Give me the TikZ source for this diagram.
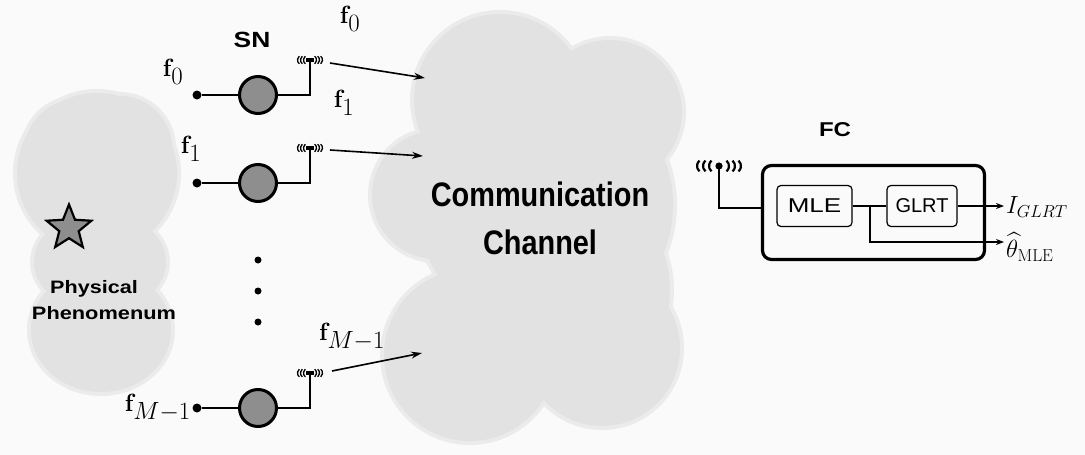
\documentclass[tikz,border=0pt]{standalone}
\usepackage[no-math]{fontspec}
\setsansfont{Liberation Sans}
\usepackage{amsmath}
\usepackage{graphicx}
\usetikzlibrary{arrows.meta,shapes.geometric}
\definecolor{bgcol}{HTML}{FAFAFA}
\definecolor{cloudcol}{HTML}{E2E2E2}
\definecolor{cloudedge}{HTML}{EBEBEB}
\definecolor{nodefill}{HTML}{8E8E8E}
\begin{document}
\begin{tikzpicture}[x=1pt,y=-1pt,
  wire/.style={line width=1.6pt},
  sig/.style={line width=1.6pt,-{Stealth[length=11pt,width=7pt]}},
  outarr/.style={line width=1.3pt,-{Stealth[length=8pt,width=6pt]}},
  dotnode/.style={circle,fill=black,inner sep=0pt,minimum size=9pt},
  ddot/.style={circle,fill=black,inner sep=0pt,minimum size=7pt},
  sensor/.style={circle,draw=black,line width=3pt,fill=nodefill,minimum size=37pt,inner sep=0pt},
  lbl/.style={font=\fontsize{33}{36}\selectfont,inner sep=1pt},
  blk/.style={draw=black,line width=1.2pt,rounded corners=4pt,minimum height=41pt,inner sep=0pt,font=\sffamily\fontsize{20}{22}\selectfont},
  sntenna/.pic={
    \fill (-4,-2) rectangle (4,2);
    \foreach \d in {1.5,4.5,7.5}{
      \draw[line width=1.3pt] ([shift={(-50:5)}]\d,0) arc (-50:50:5);
      \draw[line width=1.3pt] ([shift={(130:5)}]-\d,0) arc (130:230:5);
    }
  },
  fctenna/.pic={
    \fill (0,0) circle (3.6);
    \foreach \d in {3,9,15}{
      \draw[line width=2.2pt] ([shift={(-50:7)}]\d,0) arc (-50:50:7);
      \draw[line width=2.2pt] ([shift={(130:7)}]-\d,0) arc (130:230:7);
    }
  }]

% canvas
\fill[bgcol] (0,0) rectangle (1085,455);
\useasboundingbox (0,0) rectangle (1085,455);

% soft rim, then body, of the cloud around the observed phenomenon
\foreach \grow/\col in {4/cloudedge,0/cloudcol}{
  \begin{scope}[fill=\col]
    \fill (97,173) ellipse [x radius=80+\grow, y radius=80+\grow];
    \fill (75,150) circle (50+\grow);
    \fill (120,148) circle (52+\grow);
    \fill (101,330) ellipse [x radius=70+\grow, y radius=62+\grow];
    \fill (100,262) ellipse [x radius=66+\grow, y radius=50+\grow];
  \end{scope}
}

% soft rim, then body, of the cloud of the communication channel
\foreach \grow/\col in {4/cloudedge,0/cloudcol}{
  \begin{scope}[fill=\col]
    \fill (500,100) circle (86+\grow);
    \fill (610,112) circle (72+\grow);
    \fill (436,195) circle (64+\grow);
    \fill (545,205) circle (128+\grow);
    \fill (470,355) circle (86+\grow);
    \fill (602,348) circle (78+\grow);
    \fill (560,290) circle (110+\grow);
  \end{scope}
}

% physical phenomenon
\node[star,star points=5,star point ratio=2.3,minimum size=47pt,inner sep=0pt,
      draw=black,line width=2.2pt,fill=nodefill] (src) at (69,228) {};
\node[font=\sffamily\bfseries\fontsize{18}{22}\selectfont] (srclbl1) at (94,289)
  {\scalebox{1.2}[1]{Physical}};
\node[font=\sffamily\bfseries\fontsize{18}{22}\selectfont] (srclbl2) at (104,313)
  {\scalebox{1.21}[1]{Phenomenum}};

% sensor nodes
\node[font=\sffamily\bfseries\fontsize{22}{24}\selectfont] (snlbl) at (252,40) {\scalebox{1.2}[1]{SN}};

\node[dotnode] (in0) at (197,95) {};
\node[sensor] (sn0) at (258,95) {};
\coordinate (ant0) at (310,60);
\draw[wire] (in0) -- (sn0);
\draw[wire] (sn0.east) -| (ant0);
\pic at (ant0) {sntenna};
\node[lbl] (fin0) at (173,72) {$\mathbf{f}_0$};

\node[dotnode] (in1) at (197,183) {};
\node[sensor] (sn1) at (258,183) {};
\coordinate (ant1) at (310,148);
\draw[wire] (in1) -- (sn1);
\draw[wire] (sn1.east) -| (ant1);
\pic at (ant1) {sntenna};
\node[lbl] (fin1) at (191,149) {$\mathbf{f}_1$};

\node[ddot] (dA) at (258,260) {};
\node[ddot] (dB) at (258,291) {};
\node[ddot] (dC) at (258,322) {};

\node[dotnode] (inM) at (197,408) {};
\node[sensor] (snM) at (258,408) {};
\coordinate (antM) at (310,373);
\draw[wire] (inM) -- (snM);
\draw[wire] (snM.east) -| (antM);
\pic at (antM) {sntenna};
\node[lbl,anchor=east] (finM) at (192,408) {$\mathbf{f}_{M-1}$};

% transmissions into the channel
\coordinate (tx0) at (330,63);  \coordinate (rx0) at (425,78);
\coordinate (tx1) at (330,150); \coordinate (rx1) at (423,156);
\coordinate (txM) at (332,371); \coordinate (rxM) at (422,353);
\draw[sig] (tx0) -- (rx0);
\draw[sig] (tx1) -- (rx1);
\draw[sig] (txM) -- (rxM);
\node[lbl] (fout0) at (350,19) {$\mathbf{f}_0$};
\node[lbl] (fout1) at (344,103) {$\mathbf{f}_1$};
\node[lbl] (foutM) at (352,337) {$\mathbf{f}_{M-1}$};

% channel label
\node[font=\sffamily\bfseries\fontsize{34}{48}\selectfont,align=center] (chan) at (540,218)
  {\scalebox{0.85}[1]{Communication}\\\scalebox{0.85}[1]{Channel}};

% fusion center
\node[font=\sffamily\bfseries\fontsize{20}{22}\selectfont] (fclbl) at (835,130) {\scalebox{1.2}[1]{FC}};
\coordinate (fcant) at (719,166);
\pic at (fcant) {fctenna};
\node[draw=black,line width=3.2pt,rounded corners=9pt,minimum width=222pt,minimum height=94pt,inner sep=0pt]
  (fc) at (873.5,212.5) {};
\coordinate (fcin) at (fc.west |- 0,208);
\draw[wire,line width=1.4pt] (fcant) |- (fcin);

\node[blk,minimum width=75pt] (mle) at (814.5,206) {\scalebox{1.3}[1]{MLE}};
\node[blk,minimum width=70pt] (glrt) at (922,206) {GLRT};
\draw[line width=1.3pt] (mle) -- (glrt);
\coordinate (br) at (870,206);
\coordinate (thend) at (1004,242);
\coordinate (iend) at (1004,206);
\draw[outarr] (br) |- (thend);
\draw[outarr] (glrt) -- (iend);
\node[anchor=west,inner sep=0pt,font=\fontsize{25}{26}\selectfont] (ilbl) at (1006,207) {$I_{GLRT}$};
\node[anchor=west,inner sep=0pt,font=\fontsize{25}{26}\selectfont] (thlbl) at (1006,247) {$\widehat{\theta}_{\mathrm{MLE}}$};

\end{tikzpicture}
\end{document}
